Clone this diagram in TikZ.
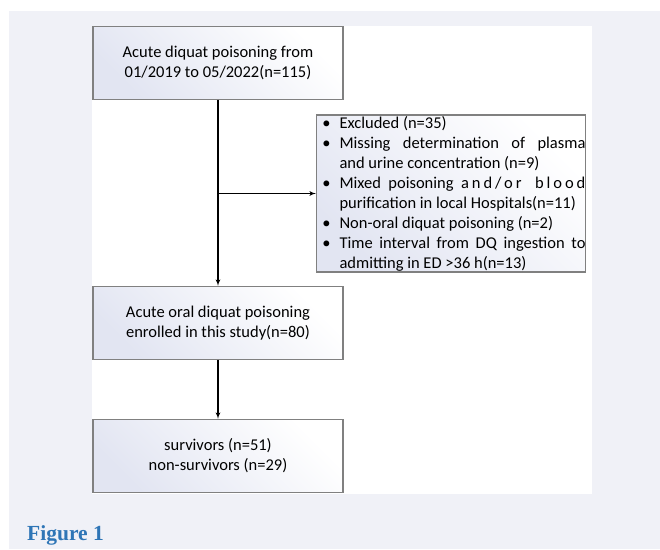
\documentclass[tikz,border=0pt]{standalone}
\usepackage{fontspec}
\setmainfont{Carlito}
\newfontfamily\figfont{Liberation Serif}
\usepackage{enumitem}
\usetikzlibrary{arrows}
\usetikzlibrary{positioning}
\definecolor{panelgray}{HTML}{F0F1F7}
\definecolor{boxlav}{HTML}{E2E5F2}
\definecolor{boxedge}{HTML}{808080}
\definecolor{figblue}{HTML}{2E75B6}
\tikzset{
 flowbox/.style={draw=boxedge, line width=1.3pt, top color=boxlav, middle color=white, bottom color=white, shading angle=135,
   minimum width=250pt, minimum height=73pt, align=center, inner sep=0pt},
 exclbox/.style={draw=boxedge, line width=1.3pt, top color=boxlav, middle color=white, bottom color=white, shading angle=135,
   inner sep=0pt},
 flowarrow/.style={black, line width=1.2pt, ->, >=latex'}
}
\begin{document}
\begin{tikzpicture}[x=1pt, y=-1pt, font=\fontsize{16.5}{20}\selectfont]
\useasboundingbox (0,0) rectangle (660,549);
% page background
\fill[panelgray] (9,11) rectangle (660,549);
\fill[white] (92,26) rectangle (592,494);
% boxes
\node[flowbox] (start) at (218,63) {Acute diquat poisoning from\\01/2019 to 05/2022(n=115)};
\node[flowbox] (enrol) at (218,323) {Acute oral diquat poisoning\\enrolled in this study(n=80)};
\node[flowbox] (outcome) at (218,456) {survivors (n=51)\\non-survivors (n=29)};
\node[exclbox] (excl) at (451,193.5) {\parbox[c][157pt][t]{274pt}{\vspace*{1.5pt}%
 \begin{itemize}[label=\textbullet, leftmargin=23pt, rightmargin=5pt, labelsep=9pt,
   topsep=0pt, partopsep=0pt, itemsep=0pt, parsep=0pt]
 \item Excluded (n=35)
 \item Missing determination of plasma\linebreak and urine concentration (n=9)
 \item Mixed poisoning {\addfontfeature{LetterSpace=18}and/or blood}\linebreak purification in local Hospitals(n=11)
 \item Non-oral diquat poisoning (n=2)
 \item Time interval from DQ ingestion to\linebreak admitting in ED >36 h(n=13)
 \end{itemize}}};
% connectors
\draw[flowarrow] (start) -- (enrol);
\draw[flowarrow] (enrol) -- (outcome);
\draw[flowarrow] (start.south |- excl.west) -- (excl.west);
% caption
\node[anchor=base west, inner sep=0pt, text=figblue, font=\figfont\bfseries\fontsize{21.5}{26}\selectfont] (figlabel) at (27,540) {Figure 1};
\end{tikzpicture}
\end{document}
